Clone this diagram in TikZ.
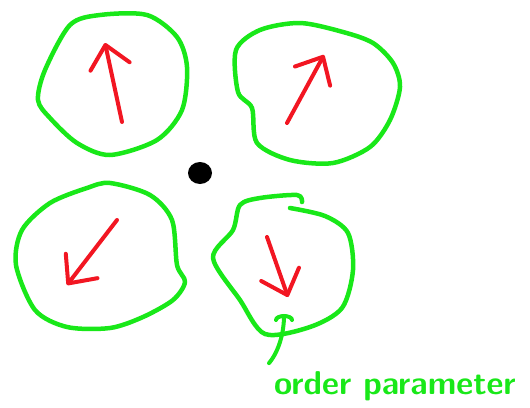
\documentclass[tikz,border=0pt]{standalone}
\usepackage{tikz}
\usetikzlibrary{arrows.meta}
\definecolor{penGreen}{RGB}{25,232,25}
\definecolor{penRed}{RGB}{242,22,34}
\tikzset{
  loop/.style  = {draw=penGreen, line width=4.5pt, line join=round, line cap=round},
  spin/.style  = {draw=penRed, line width=4pt, line cap=round, line join=round,
                  -{Straight Barb[length=22pt, width=40pt, line cap=round, line join=round]}},
  hook/.style  = {draw=penGreen, line width=4pt, line cap=round,
                  -{Arc Barb[length=6pt, width=20pt, line cap=round]}},
  lbl/.style   = {text=penGreen, font=\fontsize{33}{33}\selectfont\sffamily\bfseries, inner sep=0pt},
}
\begin{document}
\begin{tikzpicture}[x=1pt, y=-1pt]
\useasboundingbox (0,0) rectangle (530,407);

% --- domains ---
\draw[loop] plot[smooth cycle, tension=0.5] coordinates {
  (100,15) (147,15) (177,37) (187,67) (182,110) (157,140) (110,155)
  (77,143) (50,118) (38,100) (45,70) (70,25)};
\draw[loop] plot[smooth cycle, tension=0.5] coordinates {
  (300,23) (343,32) (373,43) (393,63) (400,87) (390,120)
  (370,147) (333,163) (290,160) (257,143) (252,108) (238,92) (236,50)
  (260,30)};
\draw[loop] plot[smooth cycle, tension=0.5] coordinates {
  (110,183) (150,195) (172,220) (177,265) (185,282) (173,300)
  (143,317) (110,328) (67,327) (35,310) (16,265) (22,230)
  (50,203) (87,188)};
\draw[loop] plot[smooth, tension=0.5] coordinates {
  (290,208) (325,216) (348,233) (353,270) (342,308) (310,327)
  (265,334) (240,300) (213,258) (233,230) (240,205) (260,198)
  (297,195) (302,202)};

% --- spins ---
\coordinate (tlTail) at (122,122);  \coordinate (tlTip) at (105,43);
\coordinate (trTail) at (287,123);  \coordinate (trTip) at (324,55);
\coordinate (blTail) at (117,220);  \coordinate (blTip) at (67,285);
\coordinate (brTail) at (267,237);  \coordinate (brTip) at (288,297);
\draw[spin] (tlTail) -- (tlTip);
\draw[spin] (trTail) -- (trTip);
\draw[spin] (blTail) -- (blTip);
\draw[spin] (brTail) -- (brTip);

% --- centre ---
\fill[black] (200,173) ellipse [x radius=12, y radius=11];

% --- label ---
\node[lbl, anchor=west] (order) at (274,386) {order parameter};
\coordinate (orderTip) at (284,314);
\draw[hook] (order.north west) ++(-5,-8) .. controls (280,350) and (284,330) .. (orderTip);
\end{tikzpicture}
\end{document}
